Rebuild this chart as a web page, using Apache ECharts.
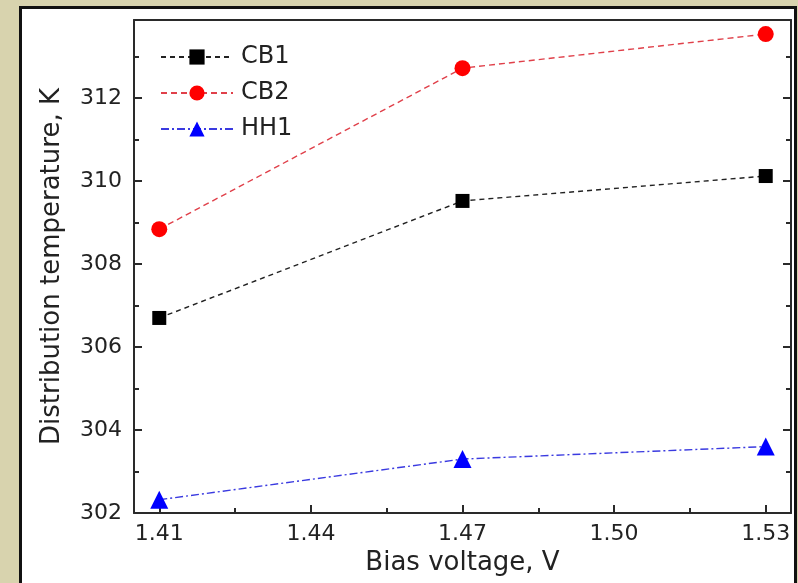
<!DOCTYPE html>
<html>
<head>
<meta charset="utf-8">
<script src="https://cdn.jsdelivr.net/npm/echarts@6/dist/echarts.min.js"></script>
<style>
  html, body { margin: 0; padding: 0; background: #d8d3ae; }
  #mychart { width: 798px; height: 583px; }
</style>
</head>
<body>
<div id="mychart"></div>
<script>
// bias voltage (V) and distribution temperature (K)
const voltages = [1.41, 1.47, 1.53]
const cb1 = [306.7, 309.52, 310.12]
const cb2 = [308.84, 312.72, 313.54]
const hh1 = [302.32, 303.3, 303.6]

const xMajorTicks = [1.41, 1.44, 1.47, 1.50, 1.53]
const xMinorTicks = [1.425, 1.455, 1.485, 1.515]
const yMajorTicks = [302, 304, 306, 308, 310, 312]
const yMinorTicks = [303, 305, 307, 309, 311, 313]

const font = 'DejaVu Sans'
const axisColor = '#2a2a2a'

function pairs(ys) {
  return voltages.map((v, i) => [v, ys[i]])
}

const xRange = { min: 1.405, max: 1.535 }
const yRange = { min: 302, max: 313.88 }

const option = {
  backgroundColor: '#d8d3ae',
  animation: false,
  graphic: [
    {
      type: 'rect',
      shape: { x: 20.5, y: 7.5, width: 775, height: 600 },
      style: { fill: '#fff', stroke: '#111', lineWidth: 3 },
      z: -10
    }
  ],
  grid: { left: 134, top: 20, right: 7, bottom: 70, containLabel: false },
  legend: {
    orient: 'vertical',
    left: 155,
    top: 40,
    itemWidth: 72,
    itemHeight: 19,
    itemGap: 12,
    textStyle: { fontFamily: font, fontSize: 24, color: '#222', padding: [0, 0, 0, 3] },
    data: ['CB1', 'CB2', 'HH1']
  },
  xAxis: [
    {
      type: 'value', ...xRange, position: 'bottom',
      name: 'Bias voltage, V', nameLocation: 'middle', nameGap: 37,
      nameTextStyle: { fontFamily: font, fontSize: 26, color: '#222' },
      axisLine: { show: true, lineStyle: { color: axisColor, width: 2 } },
      axisTick: { show: true, inside: true, length: 8, customValues: xMajorTicks, lineStyle: { color: axisColor, width: 2 } },
      axisLabel: { customValues: xMajorTicks, formatter: v => v.toFixed(2), fontFamily: font, fontSize: 22, color: '#222', margin: 10 },
      splitLine: { show: false }
    },
    {
      type: 'value', ...xRange, position: 'bottom',
      axisLine: { show: false },
      axisTick: { show: true, inside: true, length: 5, customValues: xMinorTicks, lineStyle: { color: axisColor, width: 2 } },
      axisLabel: { show: false },
      splitLine: { show: false }
    },
    {
      type: 'value', ...xRange, position: 'top',
      axisLine: { show: true, lineStyle: { color: axisColor, width: 2 } },
      axisTick: { show: false },
      axisLabel: { show: false },
      splitLine: { show: false }
    }
  ],
  yAxis: [
    {
      type: 'value', ...yRange, position: 'left',
      name: 'Distribution temperature, K', nameLocation: 'middle', nameGap: 69, nameRotate: 90,
      nameTextStyle: { fontFamily: font, fontSize: 26, color: '#222' },
      axisLine: { show: true, lineStyle: { color: axisColor, width: 2 } },
      axisTick: { show: true, inside: true, length: 8, customValues: yMajorTicks, lineStyle: { color: axisColor, width: 2 } },
      axisLabel: { customValues: yMajorTicks, fontFamily: font, fontSize: 22, color: '#222', margin: 12 },
      splitLine: { show: false }
    },
    {
      type: 'value', ...yRange, position: 'left',
      axisLine: { show: false },
      axisTick: { show: true, inside: true, length: 5, customValues: yMinorTicks, lineStyle: { color: axisColor, width: 2 } },
      axisLabel: { show: false },
      splitLine: { show: false }
    },
    {
      type: 'value', ...yRange, position: 'right',
      axisLine: { show: true, lineStyle: { color: axisColor, width: 2 } },
      axisTick: { show: true, inside: true, length: 8, customValues: yMajorTicks, lineStyle: { color: axisColor, width: 2 } },
      axisLabel: { show: false },
      splitLine: { show: false }
    },
    {
      type: 'value', ...yRange, position: 'right',
      axisLine: { show: false },
      axisTick: { show: true, inside: true, length: 5, customValues: yMinorTicks, lineStyle: { color: axisColor, width: 2 } },
      axisLabel: { show: false },
      splitLine: { show: false }
    }
  ],
  series: [
    {
      name: 'CB1', type: 'line', symbol: 'rect', symbolSize: 14,
      itemStyle: { color: '#000' },
      lineStyle: { color: '#222', width: 1.4, type: [5, 4] },
      data: pairs(cb1)
    },
    {
      name: 'CB2', type: 'line', symbol: 'circle', symbolSize: 16,
      itemStyle: { color: '#ff0000' },
      lineStyle: { color: '#e0404a', width: 1.4, type: [6, 4] },
      data: pairs(cb2)
    },
    {
      name: 'HH1', type: 'line', symbol: 'triangle', symbolSize: 18,
      itemStyle: { color: '#0000ff' },
      lineStyle: { color: '#3a3ae0', width: 1.4, type: [8, 3, 2, 3] },
      data: pairs(hh1)
    }
  ]
}

const myChart = echarts.init(document.getElementById('mychart'))
myChart.setOption(option)
</script>
</body>
</html>
